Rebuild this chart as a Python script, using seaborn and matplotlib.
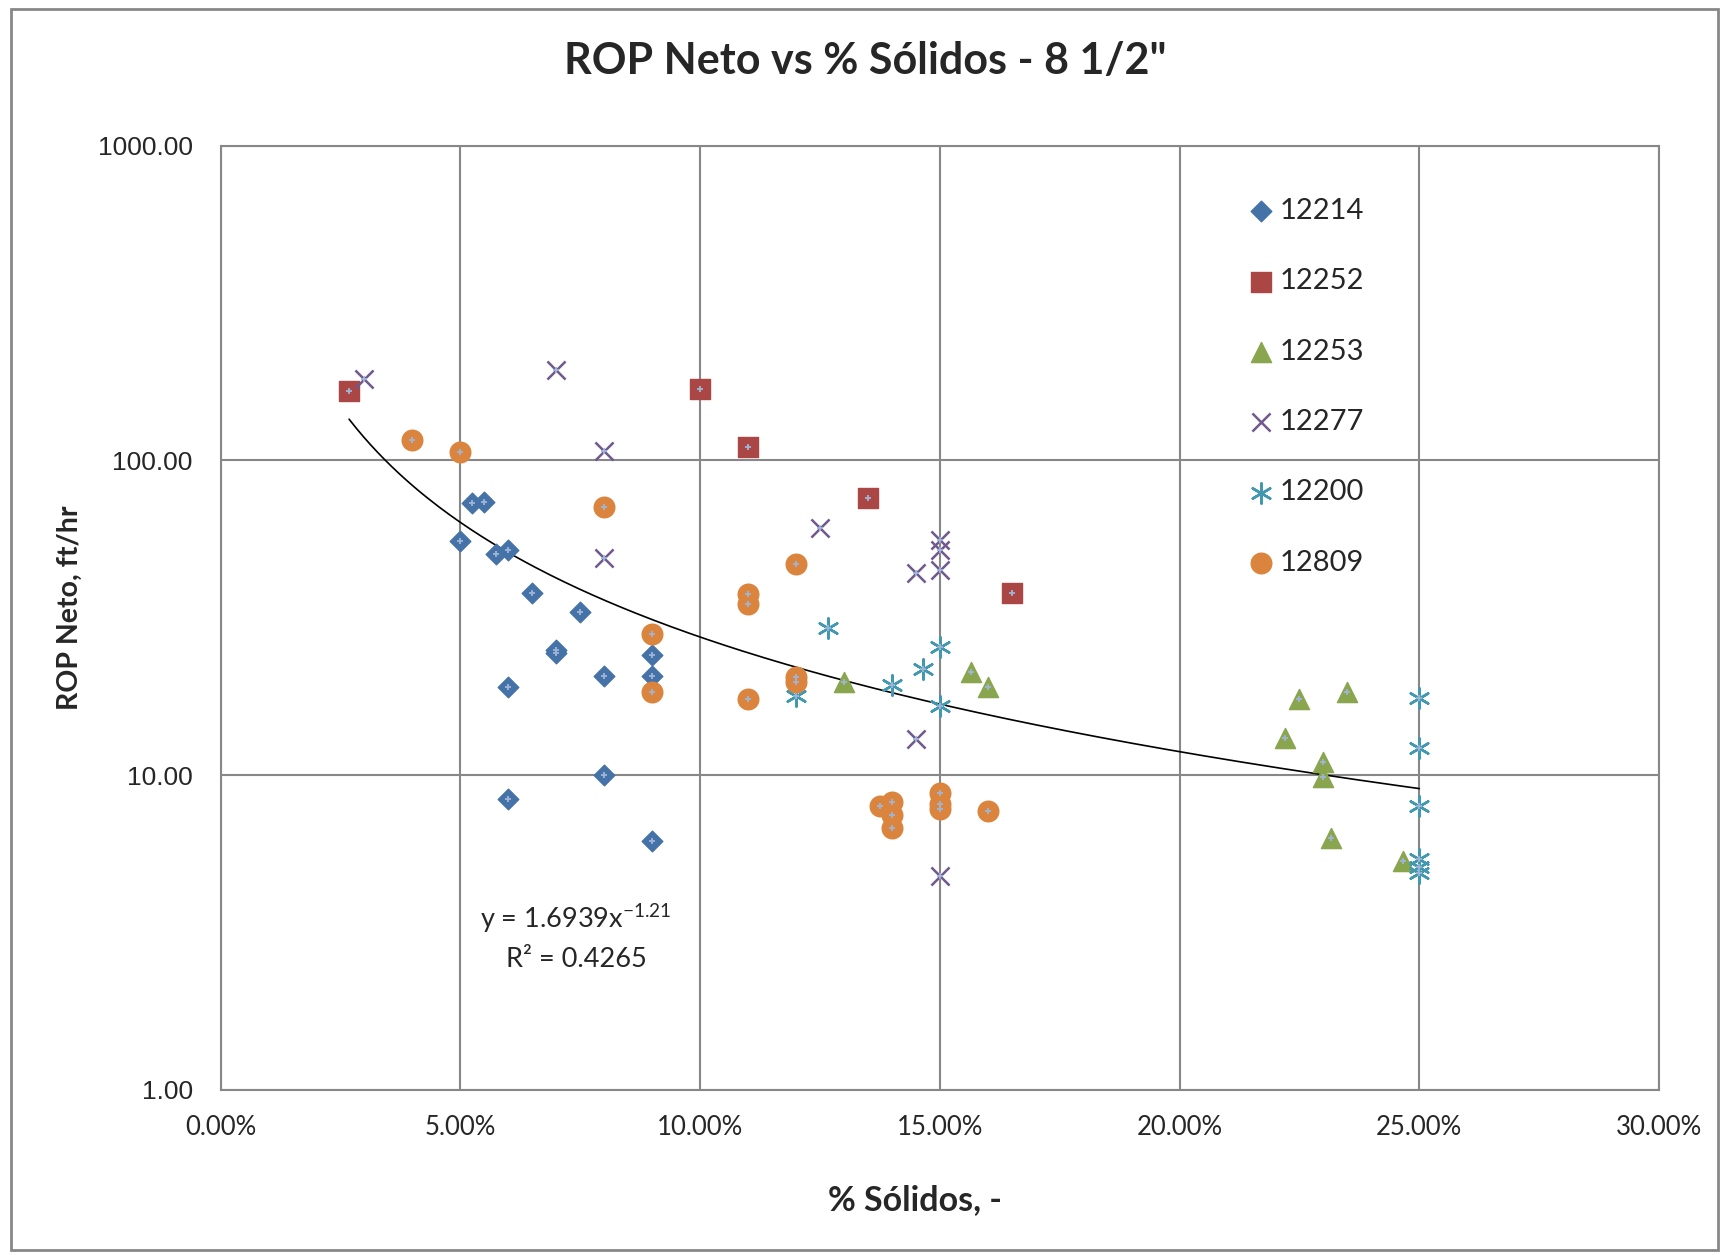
import numpy as np
import pandas as pd
import matplotlib
matplotlib.use("Agg")
import matplotlib.pyplot as plt
import seaborn as sns
from matplotlib.ticker import FixedLocator, FuncFormatter, NullLocator
from matplotlib.patches import Rectangle

# % solids (in percent) and net ROP (ft/hr), read per well
sol_12214 = [5.25, 5.5, 5.0, 5.75, 6.0, 6.5, 7.5, 7.0, 7.0, 8.0, 9.0, 9.0, 6.0, 8.0, 6.0, 9.0]
rop_12214 = [73, 73.5, 55.5, 50.5, 52, 38, 33, 25, 24.5, 20.6, 24, 20.6, 19, 10, 8.4, 6.2]

sol_12252 = [2.68, 10.0, 11.0, 13.5, 16.5]
rop_12252 = [166, 168, 110, 76, 38]

sol_12253 = [13.0, 15.66, 16.0, 22.5, 23.5, 22.2, 23.0, 23.0, 23.16, 24.66]
rop_12253 = [19.8, 21.3, 19.0, 17.4, 18.4, 13.1, 11.0, 9.9, 6.3, 5.33]

sol_12277 = [3.0, 7.0, 8.0, 8.0, 12.5, 15.0, 15.0, 15.0, 14.5, 14.5, 15.0]
rop_12277 = [181, 194, 107, 49, 61, 56, 52, 45, 44, 13, 4.8]

sol_12200 = [12.66, 12.0, 14.0, 14.65, 15.0, 15.0, 25.0, 25.0, 25.0, 25.0, 25.0, 25.0]
rop_12200 = [29.3, 17.9, 19.3, 21.8, 25.5, 16.6, 17.6, 12.2, 8.0, 5.4, 5.1, 4.9]

sol_12809 = [4.0, 5.0, 8.0, 9.0, 9.0, 11.0, 11.0, 11.0, 12.0, 12.0, 12.0, 13.75, 14.0, 14.0, 14.0, 15.0, 15.0, 15.0, 16.0]
rop_12809 = [116, 106, 71, 28, 18.4, 37.6, 35, 17.5, 47, 20.5, 19.8, 8.0, 8.2, 7.45, 6.8, 8.8, 8.1, 7.8, 7.7]

# power trendline reported on the chart
coef_a = 1.6939
coef_b = -1.21
r2 = 0.4265

pozos = ["12214", "12252", "12253", "12277", "12200", "12809"]
sols = [sol_12214, sol_12252, sol_12253, sol_12277, sol_12200, sol_12809]
rops = [rop_12214, rop_12252, rop_12253, rop_12277, rop_12200, rop_12809]

rows = []
for p, xs, ys in zip(pozos, sols, rops):
    for xv, yv in zip(xs, ys):
        rows.append({"Pozo": p, "Solidos": xv / 100.0, "ROP": yv})
df = pd.DataFrame(rows)

colors = {"12214": "#4572A7", "12252": "#AA4643", "12253": "#89A54E",
          "12277": "#71588F", "12200": "#4198AF", "12809": "#DB843D"}
markers = {"12214": "D", "12252": "s", "12253": "^", "12277": "x",
           "12200": (6, 2, 0), "12809": "o"}
sizes = {"12214": 110, "12252": 215, "12253": 210, "12277": 170,
         "12200": 210, "12809": 220}

sns.set_theme(style="white")
plt.rcParams["font.family"] = ["Lato", "DejaVu Sans"]
plt.rcParams["mathtext.fontset"] = "custom"
plt.rcParams["mathtext.rm"] = "Lato"
plt.rcParams["mathtext.it"] = "Lato"

fig = plt.figure(figsize=(17.3, 12.55), dpi=100)
ax = fig.add_axes([0.1275, 0.1315, 0.8315, 0.7525])

grid_c = "#878787"
for p in pozos:
    sub = df[df["Pozo"] == p]
    m = markers[p]
    filled = m not in ("x",) and not isinstance(m, tuple)
    kw = dict(edgecolor=colors[p], linewidth=1) if filled else dict(linewidth=1.8)
    sns.scatterplot(data=sub, x="Solidos", y="ROP", marker=m, s=sizes[p],
                    color=colors[p], label=p, ax=ax, zorder=3, **kw)

# little light-blue centre marks on every point
sns.scatterplot(data=df, x="Solidos", y="ROP", marker="+", s=24, color="#9FB5D8",
                linewidth=1.3, legend=False, ax=ax, zorder=4)

xs = np.linspace(df["Solidos"].min(), df["Solidos"].max(), 300)
ax.plot(xs, coef_a * xs ** coef_b, color="black", lw=1.2, zorder=2)

ax.set_yscale("log")
ax.set_xlim(0, 0.30)
ax.set_ylim(1, 1000)
ax.xaxis.set_major_locator(FixedLocator([0, 0.05, 0.10, 0.15, 0.20, 0.25, 0.30]))
ax.yaxis.set_major_locator(FixedLocator([1, 10, 100, 1000]))
ax.yaxis.set_minor_locator(NullLocator())
ax.xaxis.set_major_formatter(FuncFormatter(lambda v, _: f"{v * 100:.2f}%"))
ax.yaxis.set_major_formatter(FuncFormatter(lambda v, _: f"{v:.2f}"))
ax.tick_params(axis="x", length=0, pad=18, labelsize=18.5)
ax.tick_params(axis="y", length=0, pad=20, labelsize=19)
for lab in ax.get_yticklabels():
    lab.set_family(["Liberation Sans", "DejaVu Sans"])
ax.grid(True, color=grid_c, lw=1.5)
for s in ax.spines.values():
    s.set_color(grid_c)
    s.set_linewidth(1.5)
ax.set_xlabel("")
ax.set_ylabel("")

ax.legend(loc="upper left", bbox_to_anchor=(0.706, 0.957), frameon=False,
          fontsize=21, labelspacing=1.52, handlelength=0.9, handletextpad=0.2,
          borderaxespad=0)

ax.text(0.247, 0.181, f"y = {coef_a}x$^{{{coef_b}}}$", transform=ax.transAxes,
        ha="center", va="center", fontsize=19.5)
ax.text(0.247, 0.1377, f"R² = {r2}", transform=ax.transAxes,
        ha="center", va="center", fontsize=19.5)

fig.text(0.5, 1 - 61 / 1255, 'ROP Neto vs % Sólidos - 8 1/2"', ha="center",
         va="center", fontsize=31, fontweight="bold")
fig.text(915 / 1730, 1 - 1200 / 1255, "% Sólidos, -", ha="center", va="center",
         fontsize=24.5, fontweight="bold")
fig.text(69.5 / 1730, 1 - 608 / 1255, "ROP Neto, ft/hr", ha="center", va="center",
         rotation=90, fontsize=20.5, fontweight="bold")

fig.patches.append(Rectangle((11 / 1730, 1 - 1250 / 1255), 1707 / 1730, 1241 / 1255,
                             transform=fig.transFigure, fill=False,
                             edgecolor=grid_c, lw=2))

fig.savefig("out.png", dpi=100)
